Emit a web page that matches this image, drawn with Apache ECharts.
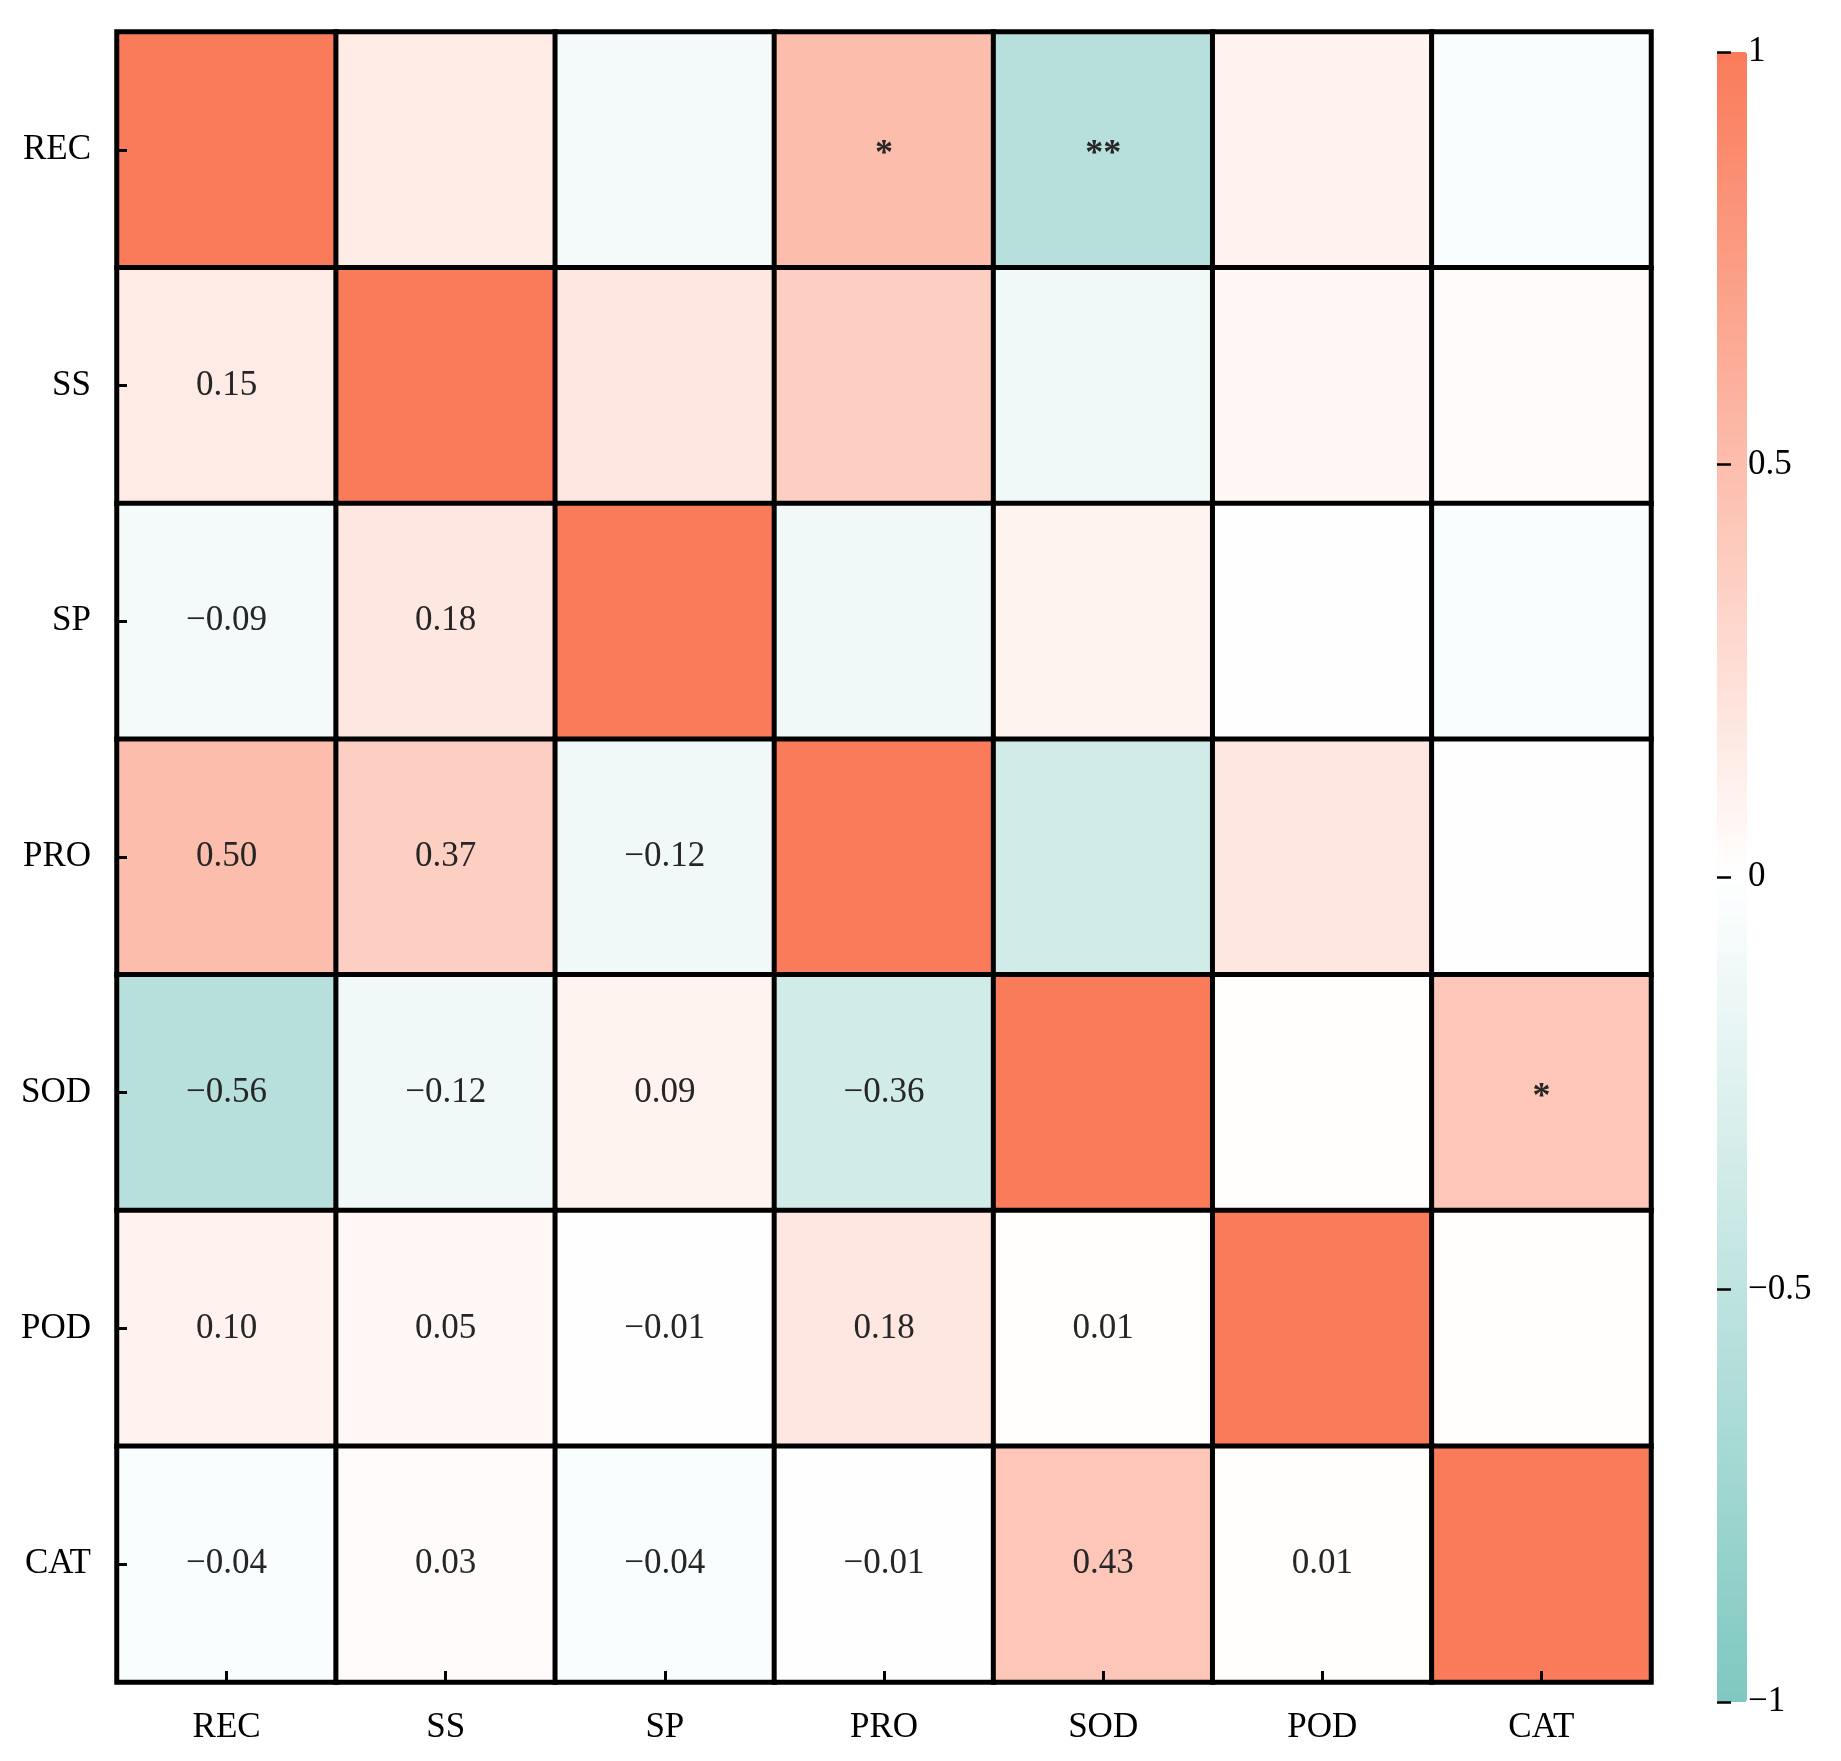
<!DOCTYPE html>
<html>
<head>
<meta charset="utf-8">
<script src="https://cdn.jsdelivr.net/npm/echarts@6/dist/echarts.min.js"></script>
<style>html,body{margin:0;padding:0;background:#fff;}#c{width:1841px;height:1761px;}</style>
</head>
<body>
<div id="c"></div>
<script>
// Variables (top to bottom on y, left to right on x)
const categories = ['REC', 'SS', 'SP', 'PRO', 'SOD', 'POD', 'CAT'];
// Lower-triangle correlation coefficients, row by row (row i, columns 0..i-1)
const corrSS  = [0.15];
const corrSP  = [-0.09, 0.18];
const corrPRO = [0.50, 0.37, -0.12];
const corrSOD = [-0.56, -0.12, 0.09, -0.36];
const corrPOD = [0.10, 0.05, -0.01, 0.18, 0.01];
const corrCAT = [-0.04, 0.03, -0.04, -0.01, 0.43, 0.01];
const lowerRows = [[], corrSS, corrSP, corrPRO, corrSOD, corrPOD, corrCAT];
// Significance marks shown in the upper triangle: [rowVar, colVar, mark]
const stars = [['REC', 'PRO', '*'], ['REC', 'SOD', '**'], ['SOD', 'CAT', '*']];
// Colour bar ticks
const colorbarTicks = [-1, -0.5, 0, 0.5, 1];

const n = categories.length;
function r(i, j) {
  if (i === j) return 1;
  return i > j ? lowerRows[i][j] : lowerRows[j][i];
}
const starMap = {};
stars.forEach(s => { starMap[s[0] + '|' + s[1]] = s[2]; });
const minus = s => String(s).replace(/-/g, '\u2212');

const font = '"Liberation Serif", "Times New Roman", serif';
const data = [];
for (let i = 0; i < n; i++) {
  for (let j = 0; j < n; j++) {
    let item = { value: [j, i, r(i, j)] };
    if (i > j) {
      item.lab = minus(r(i, j).toFixed(2));
    } else if (i < j) {
      item.lab = starMap[categories[i] + '|' + categories[j]] || '';
      item.label = { fontSize: 36, offset: [0, 5], fontWeight: 'bold' };
    } else {
      item.lab = '';
    }
    data.push(item);
  }
}

const chart = echarts.init(document.getElementById('c'));
chart.setOption({
  backgroundColor: '#ffffff',
  animation: false,
  grid: [
    { left: 117, top: 32, width: 1534, height: 1650, containLabel: false },
    { left: 1717, top: 52, width: 30, height: 1650, containLabel: false }
  ],
  xAxis: [
    {
      gridIndex: 0, type: 'category', data: categories, position: 'bottom', z: 10,
      axisLine: { show: false },
      axisTick: { show: true, inside: true, alignWithLabel: true, length: 11, lineStyle: { color: '#000', width: 3 } },
      axisLabel: { color: '#000', fontFamily: font, fontSize: 35, margin: 28 },
      splitLine: { show: false }
    },
    { gridIndex: 1, type: 'value', show: false, min: 0, max: 1 }
  ],
  yAxis: [
    {
      gridIndex: 0, type: 'category', data: categories, inverse: true, z: 10,
      axisLine: { show: false },
      axisTick: { show: true, inside: true, alignWithLabel: true, length: 10, lineStyle: { color: '#000', width: 3 } },
      axisLabel: { color: '#000', fontFamily: font, fontSize: 35, margin: 26 },
      splitLine: { show: false }
    },
    {
      gridIndex: 1, type: 'value', min: -1, max: 1, interval: 0.5, position: 'right', z: 10,
      axisLine: { show: false },
      axisTick: { show: true, length: 14, lineStyle: { color: '#000', width: 2.5 } },
      axisLabel: { color: '#000', fontFamily: font, fontSize: 35, margin: 1,
        formatter: v => minus(v) },
      splitLine: { show: false }
    }
  ],
  visualMap: {
    type: 'continuous', min: -1, max: 1, show: true, calculable: false,
    seriesIndex: 0, orient: 'vertical', left: 1717, top: 52,
    itemWidth: 30, itemHeight: 1650, padding: 0, text: null,
    inRange: { color: ['#7fc8c1', '#ffffff', '#fa7b5a'] }
  },
  series: [{
    type: 'heatmap', xAxisIndex: 0, yAxisIndex: 0,
    data: data,
    itemStyle: { borderColor: '#000', borderWidth: 5 },
    label: {
      show: true, fontFamily: font, fontSize: 35, color: '#262626',
      formatter: p => p.data.lab
    },
    emphasis: { disabled: true }
  }]
});
</script>
</body>
</html>
